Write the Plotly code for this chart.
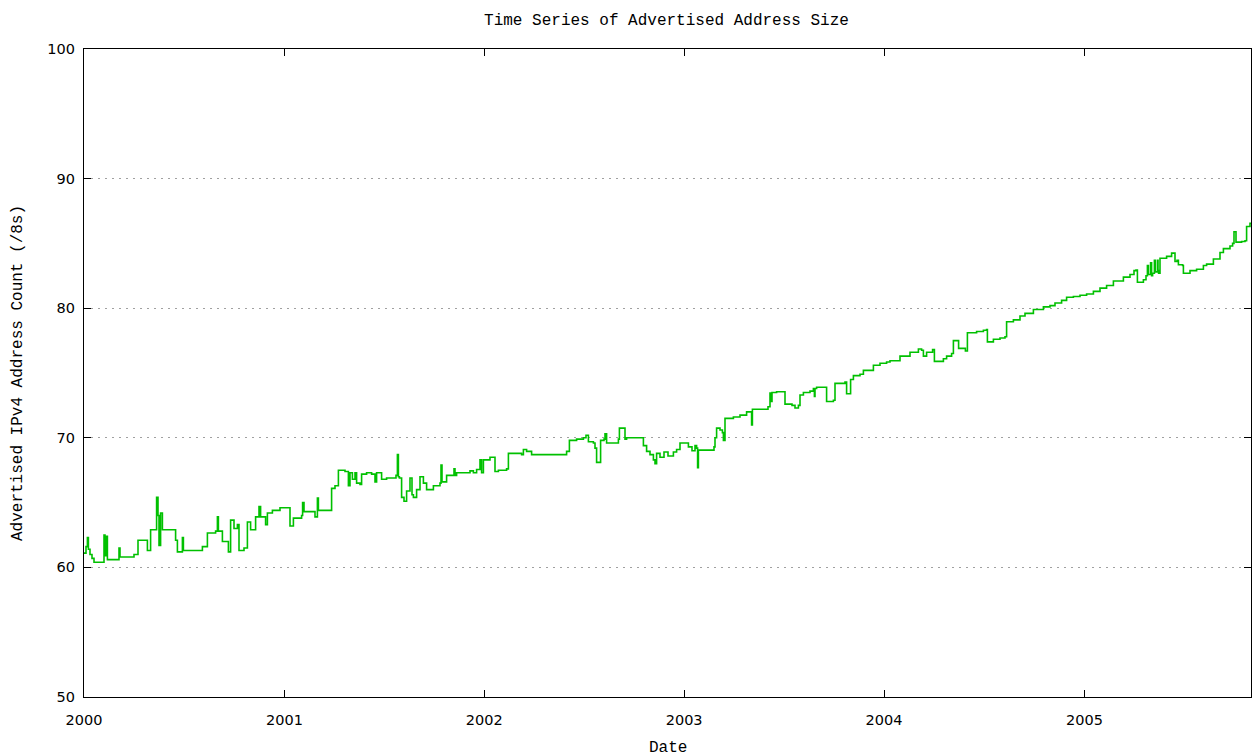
import pandas as pd
import plotly.graph_objects as go

# decimal years and advertised /8 counts
years = [
    2000.000, 2000.010, 2000.017, 2000.022, 2000.030, 2000.040, 2000.050, 2000.083, 2000.100, 2000.105,
    2000.112, 2000.117, 2000.125, 2000.167, 2000.175, 2000.180, 2000.250, 2000.267, 2000.270, 2000.308,
    2000.317, 2000.333, 2000.358, 2000.363, 2000.370, 2000.375, 2000.383, 2000.392, 2000.450, 2000.458,
    2000.467, 2000.492, 2000.497, 2000.583, 2000.592, 2000.617, 2000.658, 2000.667, 2000.672, 2000.692,
    2000.717, 2000.722, 2000.733, 2000.750, 2000.767, 2000.775, 2000.800, 2000.817, 2000.833, 2000.858,
    2000.875, 2000.883, 2000.908, 2000.917, 2000.942, 2000.980,
    2001.022, 2001.030, 2001.047, 2001.088, 2001.093, 2001.100, 2001.147, 2001.155, 2001.167, 2001.172,
    2001.230, 2001.238, 2001.255, 2001.272, 2001.305, 2001.322, 2001.330, 2001.342, 2001.355, 2001.363,
    2001.380, 2001.388, 2001.413, 2001.438, 2001.455, 2001.463, 2001.480, 2001.488, 2001.513, 2001.555,
    2001.560, 2001.567, 2001.572, 2001.577, 2001.588, 2001.600, 2001.613, 2001.630, 2001.640, 2001.647,
    2001.663, 2001.680, 2001.697, 2001.713, 2001.747, 2001.780, 2001.785, 2001.790, 2001.813, 2001.847,
    2001.850, 2001.855, 2001.863, 2001.913, 2001.930, 2001.947, 2001.963, 2001.980,
    2001.988, 2001.997, 2002.022, 2002.030, 2002.047, 2002.055, 2002.072, 2002.113, 2002.122, 2002.180,
    2002.188, 2002.197, 2002.213, 2002.230, 2002.238, 2002.405, 2002.413, 2002.427, 2002.463, 2002.497,
    2002.510, 2002.522, 2002.547, 2002.555, 2002.563, 2002.577, 2002.583, 2002.600, 2002.605, 2002.613,
    2002.663, 2002.672, 2002.677, 2002.697, 2002.705, 2002.713, 2002.788, 2002.797, 2002.813, 2002.830,
    2002.847, 2002.855, 2002.863, 2002.880, 2002.900, 2002.920, 2002.947, 2002.963, 2002.980, 2003.005,
    2003.022, 2003.040, 2003.055, 2003.063, 2003.068, 2003.072, 2003.138, 2003.150, 2003.155, 2003.163,
    2003.180, 2003.192, 2003.197, 2003.205, 2003.247, 2003.280, 2003.313, 2003.333, 2003.338, 2003.342,
    2003.413, 2003.420, 2003.430, 2003.435, 2003.440, 2003.463, 2003.497, 2003.505, 2003.530, 2003.540,
    2003.555, 2003.572, 2003.580, 2003.597, 2003.630, 2003.647, 2003.652, 2003.655, 2003.663, 2003.705,
    2003.713, 2003.747, 2003.755, 2003.805, 2003.813, 2003.830, 2003.833, 2003.847, 2003.880, 2003.897,
    2003.947, 2003.980, 2004.013,
    2004.030, 2004.080, 2004.130, 2004.172, 2004.188, 2004.197, 2004.213, 2004.243, 2004.252, 2004.280,
    2004.297, 2004.313, 2004.338, 2004.347, 2004.367, 2004.373, 2004.397, 2004.407, 2004.417, 2004.463,
    2004.497, 2004.513, 2004.517, 2004.547, 2004.580, 2004.605, 2004.613, 2004.647, 2004.680, 2004.705,
    2004.747, 2004.797, 2004.830, 2004.855, 2004.888, 2004.913, 2004.947, 2004.980, 2005.013, 2005.047,
    2005.080, 2005.113, 2005.147, 2005.197, 2005.230, 2005.250, 2005.260, 2005.267, 2005.297, 2005.310,
    2005.317, 2005.322, 2005.327, 2005.333, 2005.338, 2005.343, 2005.352, 2005.356, 2005.360, 2005.367,
    2005.370, 2005.373, 2005.380, 2005.413, 2005.438, 2005.447, 2005.455, 2005.465, 2005.472, 2005.493,
    2005.497, 2005.530, 2005.563, 2005.597, 2005.613, 2005.647, 2005.680, 2005.697, 2005.730, 2005.743,
    2005.750, 2005.760, 2005.788, 2005.805, 2005.813, 2005.830, 2005.840,
]
counts = [
    61.1, 61.6, 62.3, 61.4, 61.0, 60.7, 60.4, 60.4, 62.5, 60.9,
    62.4, 60.6, 60.6, 60.6, 61.5, 60.8, 61.0, 61.0, 62.1, 62.1,
    61.3, 62.9, 62.9, 65.4, 64.0, 61.7, 64.2, 62.9, 62.9, 62.1,
    61.2, 62.3, 61.3, 61.3, 61.6, 62.65, 62.8, 63.9, 62.8, 62.0,
    62.0, 61.2, 63.65, 63.0, 63.3, 61.3, 61.5, 63.5, 62.9, 63.9,
    64.7, 63.9, 63.3, 64.2, 64.4, 64.6,
    64.6, 63.2, 63.8, 64.0, 65.0, 64.3, 64.3, 63.9, 65.35, 64.4,
    64.4, 66.1, 66.3, 67.5, 67.4, 66.3, 67.3, 66.8, 67.3, 66.5,
    66.4, 67.2, 67.3, 67.2, 66.6, 67.3, 67.3, 66.8, 66.9, 66.9,
    67.1, 68.7, 67.0, 66.9, 65.4, 65.1, 65.9, 66.9, 65.6, 65.4,
    66.0, 67.0, 66.5, 66.0, 66.3, 66.5, 67.9, 66.6, 67.1, 67.1,
    67.6, 67.1, 67.3, 67.3, 67.45, 67.3, 67.55, 68.3,
    67.3, 68.3, 68.3, 68.5, 68.5, 67.4, 67.5, 67.6, 68.8, 68.8,
    68.7, 69.1, 68.95, 68.95, 68.7, 68.7, 68.95, 69.8, 69.9, 70.0,
    70.2, 69.7, 69.6, 69.2, 68.1, 68.1, 69.8, 69.9, 70.3, 69.6,
    69.6, 69.9, 70.75, 70.75, 69.9, 70.0, 70.0, 69.4, 68.95, 68.7,
    68.3, 68.0, 68.8, 68.5, 68.9, 68.6, 68.9, 69.1, 69.6, 69.6,
    69.3, 69.0, 69.4, 69.2, 67.7, 69.05, 69.05, 69.3, 70.0, 70.75,
    70.6, 70.4, 69.8, 71.5, 71.6, 71.75, 72.0, 72.0, 71.0, 72.2,
    72.2, 72.4, 73.45, 72.8, 73.5, 73.55, 73.55, 72.6, 72.6, 72.5,
    72.3, 72.5, 73.3, 73.5, 73.6, 73.8, 73.2, 73.8, 73.9, 73.9,
    72.8, 72.9, 74.2, 74.3, 73.4, 73.4, 74.5, 74.8, 74.9, 75.2,
    75.6, 75.75, 75.85,
    75.95, 76.3, 76.6, 76.85, 76.75, 76.3, 76.6, 76.8, 75.9, 75.9,
    76.1, 76.3, 76.5, 77.5, 77.5, 76.9, 76.9, 76.7, 78.1, 78.2,
    78.3, 78.35, 77.4, 77.6, 77.7, 77.8, 78.95, 79.1, 79.4, 79.6,
    79.9, 80.1, 80.2, 80.4, 80.6, 80.85, 80.9, 81.0, 81.1, 81.3,
    81.55, 81.75, 82.1, 82.4, 82.6, 82.9, 82.95, 82.0, 82.2, 82.5,
    83.3, 82.6, 82.6, 83.5, 82.5, 82.7, 83.7, 82.8, 82.8, 83.7,
    82.9, 82.7, 83.85, 84.0, 84.25, 84.25, 83.6, 83.7, 83.35, 83.3,
    82.7, 82.9, 83.0, 83.3, 83.4, 83.8, 84.3, 84.6, 84.8, 85.0,
    85.9, 85.1, 85.15, 85.2, 86.3, 86.55, 86.5,
]

x_start_year = 2000.0
x_end_year = 2005.835
y_ticks = [50, 60, 70, 80, 90, 100]

title_text = "Time Series of Advertised Address Size"
x_title = "Date"
y_title = "Advertised IPv4 Address Count (/8s)"

origin = pd.Timestamp("2000-01-01")


def to_date(yr):
    return origin + pd.to_timedelta((yr - 2000.0) * 365.25, unit="D")


dates = [to_date(y) for y in years]

mono = "Liberation Mono, DejaVu Sans Mono, monospace"
sans = "DejaVu Sans, Verdana, sans-serif"

W, H = 1253, 756

fig = go.Figure()
fig.add_trace(go.Scatter(
    x=dates, y=counts, mode="lines",
    line=dict(color="#00c000", width=1.6, shape="hv"),
    showlegend=False, hoverinfo="skip",
))

fig.update_layout(
    width=W, height=H,
    margin=dict(l=84, r=2, t=49, b=59),
    paper_bgcolor="white", plot_bgcolor="white",
    title=dict(text=title_text, x=666.5 / W, xanchor="center",
               y=1 - 19 / H, yref="container", yanchor="middle",
               font=dict(family=mono, size=16, color="black")),
    showlegend=False,
    hovermode=False,
)

fig.update_xaxes(
    type="date",
    range=[to_date(x_start_year), to_date(x_end_year)],
    tick0="2000-01-01", dtick="M12", tickformat="%Y",
    ticks="inside", ticklen=7, tickwidth=1, tickcolor="black",
    showline=True, linecolor="black", linewidth=1.3, mirror="ticks",
    showgrid=False, zeroline=False,
    tickfont=dict(family=sans, size=14.5, color="black"),
    ticklabelstandoff=9,
)
fig.update_yaxes(
    range=[50, 100], tickvals=y_ticks,
    ticks="inside", ticklen=7, tickwidth=1, tickcolor="black",
    showline=True, linecolor="black", linewidth=1.3, mirror="ticks",
    showgrid=True, gridcolor="#a0a0a0", gridwidth=1, griddash="2px,5px",
    zeroline=False,
    tickfont=dict(family=sans, size=14.5, color="black"),
    ticklabelstandoff=5,
)

fig.add_annotation(
    text=x_title, xref="paper", yref="paper", x=0.5, y=0,
    xanchor="center", yanchor="middle", yshift=-51, showarrow=False,
    font=dict(family=mono, size=16, color="black"),
)
fig.add_annotation(
    text=y_title, xref="paper", yref="paper", x=0, y=0.5,
    xanchor="center", yanchor="middle", xshift=-66, textangle=-90,
    showarrow=False, font=dict(family=mono, size=16, color="black"),
)

# remove the default page margin so the figure sits at the window's top-left
page_fix = ("document.body.style.margin='0';"
            "document.documentElement.style.overflow='hidden';"
            "document.body.style.overflow='hidden';")

fig.write_html("out.html", post_script=page_fix,
               config={"displayModeBar": False})
